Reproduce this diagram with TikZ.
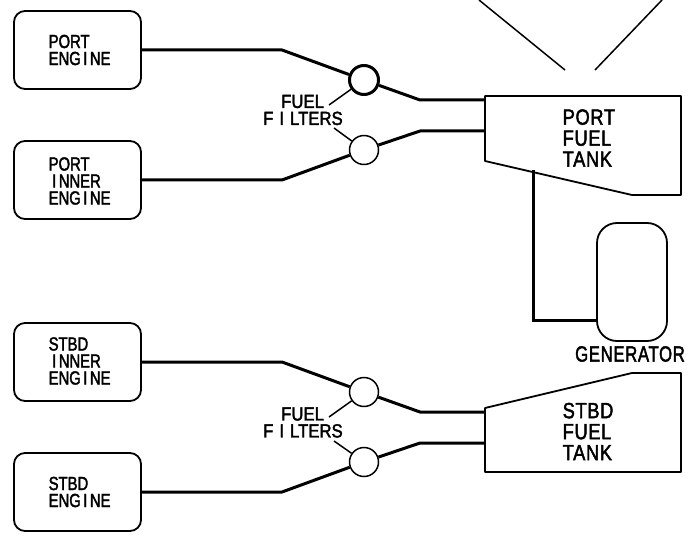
\documentclass[tikz,border=0pt]{standalone}
\usepackage{fontspec}
\setmainfont{Liberation Sans}
\newfontfamily\fsmall[FakeStretch=0.78,FakeBold=2]{Liberation Sans}
\newfontfamily\ffilt[FakeStretch=0.88,FakeBold=2]{Liberation Sans}
\newfontfamily\fbig[FakeStretch=0.83,FakeBold=2,LetterSpace=3]{Liberation Sans}
\newfontfamily\fgen[FakeStretch=0.76,FakeBold=2,LetterSpace=3]{Liberation Sans}
\newcommand\II{\kern2.5pt I\kern2.5pt}
\newcommand\IF{\kern6pt I\kern6pt}
\begin{document}
\begin{tikzpicture}[x=1pt,y=-1pt,line join=round,
  lbl/.style={align=left,inner sep=0pt,font=\fsmall\fontsize{19}{17}\selectfont},
  filtlbl/.style={align=left,inner sep=0pt,font=\ffilt\fontsize{19}{17}\selectfont},
  tanklbl/.style={align=left,inner sep=0pt,font=\fbig\fontsize{22}{21}\selectfont},
  genlbl/.style={inner sep=0pt,font=\fgen\fontsize{22}{21}\selectfont},
  enginebox/.style={draw,line width=1.8pt,rounded corners=11pt,minimum width=127pt,minimum height=78pt,inner sep=0pt},
  filter/.style={draw,circle,line width=1.5pt,minimum size=29pt,inner sep=0pt},
  pipe/.style={line width=3pt},
  thin line/.style={line width=1.5pt},
  tank/.style={line width=1.8pt}]
\useasboundingbox (0,0) rectangle (698,540);
% port tank
\coordinate (pa) at (485,96); \coordinate (pb) at (681,96); \coordinate (pc) at (681,195);
\coordinate (pd) at (632,195); \coordinate (pe) at (485,161);
\draw[tank] (pa) -- (pb) -- (pc) -- (pd) -- (pe) -- cycle;
\node[tanklbl,anchor=west] (ptl) at (562.5,138) {PORT\\FUEL\\TANK};
% stbd tank
\coordinate (sa) at (485,408); \coordinate (sb) at (632,373); \coordinate (sc) at (681,373);
\coordinate (sd) at (681,472); \coordinate (se) at (485,472);
\draw[tank] (sa) -- (sb) -- (sc) -- (sd) -- (se) -- cycle;
\node[tanklbl,anchor=west] (stl) at (562.5,431.5) {STBD\\FUEL\\TANK};
% generator
\node[draw,line width=1.8pt,rounded corners=20pt,minimum width=70pt,minimum height=118pt,inner sep=0pt] (gen) at (632,282) {};
\node[genlbl,anchor=west] (genl) at (575,354) {GENERATOR};
\coordinate (gt) at (533,170); \coordinate (gb) at (533,320); \coordinate (ge) at (597,320);
\draw[pipe,line join=miter] (gt) -- (gb) -- (ge);
% engines
\node[enginebox] (e1) at (77.5,50) {};
\node[enginebox] (e2) at (77.5,180) {};
\node[enginebox] (e3) at (77.5,362) {};
\node[enginebox] (e4) at (77.5,492) {};
\node[lbl,anchor=west] (e1l) at (48.5,50) {PORT\\ENG\II NE};
\node[lbl,anchor=west] (e2l) at (48.5,181) {PORT\\\hspace*{1pt}\II NNER\\ENG\II NE};
\node[lbl,anchor=west] (e3l) at (48.5,361) {STBD\\\hspace*{1pt}\II NNER\\ENG\II NE};
\node[lbl,anchor=west] (e4l) at (48.5,492) {STBD\\ENG\II NE};
% filters
\node[filter,line width=3pt] (f1) at (364,80) {};
\node[filter] (f2) at (364,150) {};
\node[filter] (f3) at (364,392) {};
\node[filter] (f4) at (364,462) {};
% pipes
\coordinate (b1) at (282,50); \coordinate (c1) at (420,100); \coordinate (t1) at (485,100);
\coordinate (b2) at (282,180); \coordinate (c2) at (420,131); \coordinate (t2) at (485,131);
\coordinate (b3) at (282,362); \coordinate (c3) at (420,412); \coordinate (t3) at (485,412);
\coordinate (b4) at (282,492); \coordinate (c4) at (420,443); \coordinate (t4) at (485,443);
\draw[pipe] (e1.east) -- (b1) -- (f1);
\draw[pipe] (f1) -- (c1) -- (t1);
\draw[pipe] (e2.east) -- (b2) -- (f2);
\draw[pipe] (f2) -- (c2) -- (t2);
\draw[pipe] (e3.east) -- (b3) -- (f3);
\draw[pipe] (f3) -- (c3) -- (t3);
\draw[pipe] (e4.east) -- (b4) -- (f4);
\draw[pipe] (f4) -- (c4) -- (t4);
% labels and leaders
\node[filtlbl,anchor=west] (u1) at (263,110) {\hspace*{18pt}FUEL\\F\IF LTERS};
\node[filtlbl,anchor=west] (u3) at (263,422.5) {\hspace*{18pt}FUEL\\F\IF LTERS};
\coordinate (l1) at (329,105); \coordinate (l2) at (334,128);
\coordinate (l3) at (329,417); \coordinate (l4) at (334,441);
\draw[thin line] (l1) -- (f1);
\draw[thin line] (l2) -- (f2);
\draw[thin line] (l3) -- (f3);
\draw[thin line] (l4) -- (f4);
% top lines
\coordinate (v1) at (479,0); \coordinate (v2) at (565,70);
\coordinate (v3) at (662,0); \coordinate (v4) at (595,70);
\draw[thin line] (v1) -- (v2);
\draw[thin line] (v3) -- (v4);
\end{tikzpicture}
\end{document}
